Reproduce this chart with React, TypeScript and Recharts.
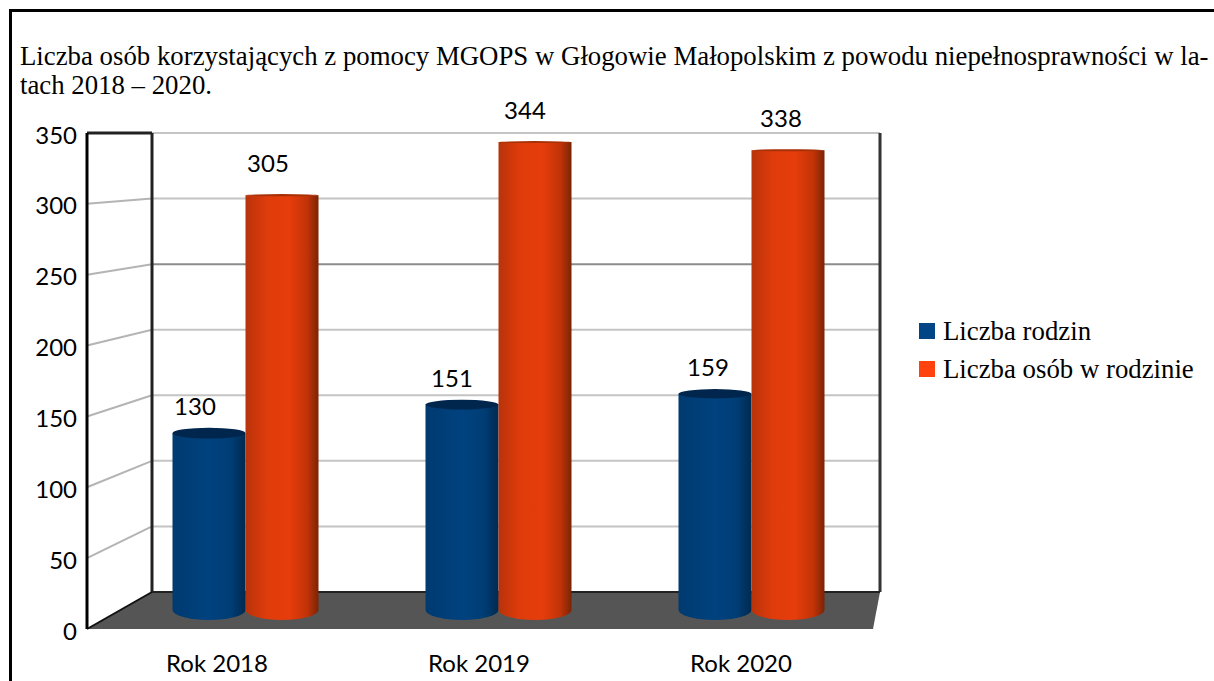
import React from 'react';
import { ComposedChart, Bar, XAxis, YAxis, ReferenceLine, Legend, LabelList } from 'recharts';

const years = ['Rok 2018', 'Rok 2019', 'Rok 2020'];
const families = [130, 151, 159];
const people = [305, 344, 338];
const valueTicks = [0, 50, 100, 150, 200, 250, 300, 350];
const titleLines = [
  'Liczba osób korzystających z pomocy MGOPS w Głogowie Małopolskim z powodu niepełnosprawności w la-',
  'tach 2018 – 2020.',
];

const BLUE = '#004586';
const ORANGE = '#ff420e';
const SANS = 'Lato, sans-serif';
const SERIF = '"Liberation Serif", serif';

const chartData = years.map((year, i) => ({ year, families: families[i], people: people[i] }));

// the fake 3d box: the left wall runs from the front plane to the back plane
const FRONT_TOP = 133;
const FRONT_BOTTOM = 629;
const BACK_BOTTOM = 592;
const backToFront = (v: number) => {
  const backPx = BACK_BOTTOM - (v / 350) * (BACK_BOTTOM - FRONT_TOP);
  return ((FRONT_BOTTOM - backPx) / (FRONT_BOTTOM - FRONT_TOP)) * 350;
};

// value labels sit off-centre, less so towards the right
const labelShift = [-14, -10, -7];

const Cylinder = (props: any) => {
  const { x, y, width, height, gradient, topColor } = props;
  const base = y + height;
  // top ellipse flattens the higher the bar reaches
  const topRy = Math.max(1, (y - 135) / 55);
  return (
    <g>
      <path
        d={`M${x},${y} L${x},${base} A${width / 2},10 0 0 0 ${x + width},${base} L${x + width},${y} Z`}
        fill={`url(#${gradient})`}
      />
      <ellipse cx={x + width / 2} cy={y} rx={width / 2} ry={topRy} fill={topColor} />
    </g>
  );
};

const ValueLabel = (props: any) => {
  const { x, y, width, value, index, gap } = props;
  return (
    <text x={x + width / 2 + labelShift[index]} y={y - gap} textAnchor="middle" fontFamily={SANS} fontSize={24} fill="#000">
      {value}
    </text>
  );
};

const LegendRows = ({ payload }: any) => (
  <div>
    {(payload || []).map((entry: any) => (
      <div key={entry.value} style={{ display: 'flex', alignItems: 'center', height: 38, fontFamily: SERIF, fontSize: 26.8, color: '#000', whiteSpace: 'nowrap' }}>
        <span style={{ width: 16, height: 16, background: entry.color, marginRight: 8, flex: 'none' }} />
        {entry.value}
      </div>
    ))}
  </div>
);

export default function App() {
  return (
    <div style={{ position: 'absolute', left: 0, top: 0, width: 1214, height: 681, overflow: 'hidden', background: '#fff' }}>
      <div style={{ position: 'absolute', left: 9, top: 9, width: 1205, height: 672, borderTop: '3px solid #000', borderLeft: '3px solid #000' }} />
      {titleLines.map((line, i) => (
        <div
          key={i}
          style={{ position: 'absolute', left: 20, top: 42 + i * 29, fontFamily: SERIF, fontSize: 26.8, lineHeight: '29px', whiteSpace: 'nowrap', color: '#000' }}
        >
          {line}
        </div>
      ))}
      <ComposedChart
        width={1214}
        height={681}
        data={chartData}
        barSize={73}
        barGap={0}
        margin={{ top: FRONT_TOP, right: 334, bottom: 0, left: 0 }}
        style={{ position: 'absolute', left: 0, top: 0 }}
      >
        <defs>
          <linearGradient id="blueCyl" x1="0" x2="1" y1="0" y2="0">
            <stop offset="0" stopColor="#003a70" />
            <stop offset="0.5" stopColor="#00427f" />
            <stop offset="0.8" stopColor="#003d75" />
            <stop offset="1" stopColor="#002a50" />
          </linearGradient>
          <linearGradient id="orangeCyl" x1="0" x2="1" y1="0" y2="0">
            <stop offset="0" stopColor="#b8330a" />
            <stop offset="0.3" stopColor="#e03c0b" />
            <stop offset="0.6" stopColor="#e63d0b" />
            <stop offset="0.85" stopColor="#c03308" />
            <stop offset="1" stopColor="#7a2404" />
          </linearGradient>
        </defs>

        <polygon points="87,629 873,629 880,592 152,592" fill="#555555" />

        <XAxis xAxisId="front" dataKey="year" padding={{ left: 0, right: 7 }} axisLine={false} tickLine={false} height={52} tickMargin={20} tick={{ fontFamily: SANS, fontSize: 24, fill: '#000', dx: -1 }} />
        <XAxis xAxisId="bars" dataKey="year" hide height={0} padding={{ left: 31.5, right: 2.5 }} />
        <XAxis xAxisId="wall" dataKey={() => 87} type="number" hide height={0} domain={[87, 880]} allowDataOverflow />

        <YAxis yAxisId="front" width={87} domain={[0, 350]} ticks={valueTicks} interval={0} allowDataOverflow tickLine={false} tickMargin={4} axisLine={{ stroke: '#000', strokeWidth: 3 }} tick={{ fontFamily: SANS, fontSize: 24, fill: '#000', dy: 2 }} />
        <YAxis yAxisId="back" hide width={0} domain={[-28.2, 350]} allowDataOverflow />
        <YAxis yAxisId="bars" hide width={0} domain={[-13.97, 350.7]} allowDataOverflow />

        {valueTicks.slice(1).map((v) => (
          <ReferenceLine key={v} xAxisId="wall" yAxisId="back" zIndex={-50} stroke={v === 250 ? '#8c8c8c' : '#c4c4c4'} strokeWidth={2} segment={[{ x: 152, y: v }, { x: 880, y: v }]} />
        ))}
        {valueTicks.slice(1, -1).map((v) => (
          <ReferenceLine key={v} xAxisId="wall" yAxisId="front" zIndex={-50} stroke="#b4b4b4" strokeWidth={2} segment={[{ x: 87, y: v }, { x: 152, y: backToFront(v) }]} />
        ))}
        <ReferenceLine xAxisId="wall" yAxisId="front" zIndex={100} stroke="#222" strokeWidth={3} segment={[{ x: 87, y: 350 }, { x: 152, y: 350 }]} />
        <ReferenceLine xAxisId="wall" yAxisId="front" zIndex={100} stroke="#111" strokeWidth={2} segment={[{ x: 87, y: 0 }, { x: 152, y: backToFront(0) }]} />
        <ReferenceLine xAxisId="wall" yAxisId="back" zIndex={100} stroke="#222" strokeWidth={3} segment={[{ x: 152, y: 0 }, { x: 152, y: 350 }]} />
        <ReferenceLine xAxisId="wall" yAxisId="back" zIndex={100} stroke="#333" strokeWidth={3} segment={[{ x: 880, y: 0 }, { x: 880, y: 350 }]} />
        <ReferenceLine xAxisId="wall" yAxisId="back" zIndex={100} stroke="#222" strokeWidth={2} segment={[{ x: 152, y: 0 }, { x: 880, y: 0 }]} />

        <Legend
          layout="vertical"
          align="center"
          verticalAlign="middle"
          itemSorter={null}
          content={LegendRows}
          wrapperStyle={{ left: 919, top: 312, width: 290 }}
        />

        <Bar
          xAxisId="bars"
          yAxisId="bars"
          dataKey="families"
          name="Liczba rodzin"
          fill={BLUE}
          isAnimationActive={false}
          shape={(p: any) => <Cylinder {...p} gradient="blueCyl" topColor="#00264d" />}
        >
          <LabelList dataKey="families" content={(p: any) => <ValueLabel {...p} gap={18} />} />
        </Bar>
        <Bar
          xAxisId="bars"
          yAxisId="bars"
          dataKey="people"
          name="Liczba osób w rodzinie"
          fill={ORANGE}
          isAnimationActive={false}
          shape={(p: any) => <Cylinder {...p} gradient="orangeCyl" topColor="#a83006" />}
        >
          <LabelList dataKey="people" content={(p: any) => <ValueLabel {...p} gap={23} />} />
        </Bar>
      </ComposedChart>
    </div>
  );
}
